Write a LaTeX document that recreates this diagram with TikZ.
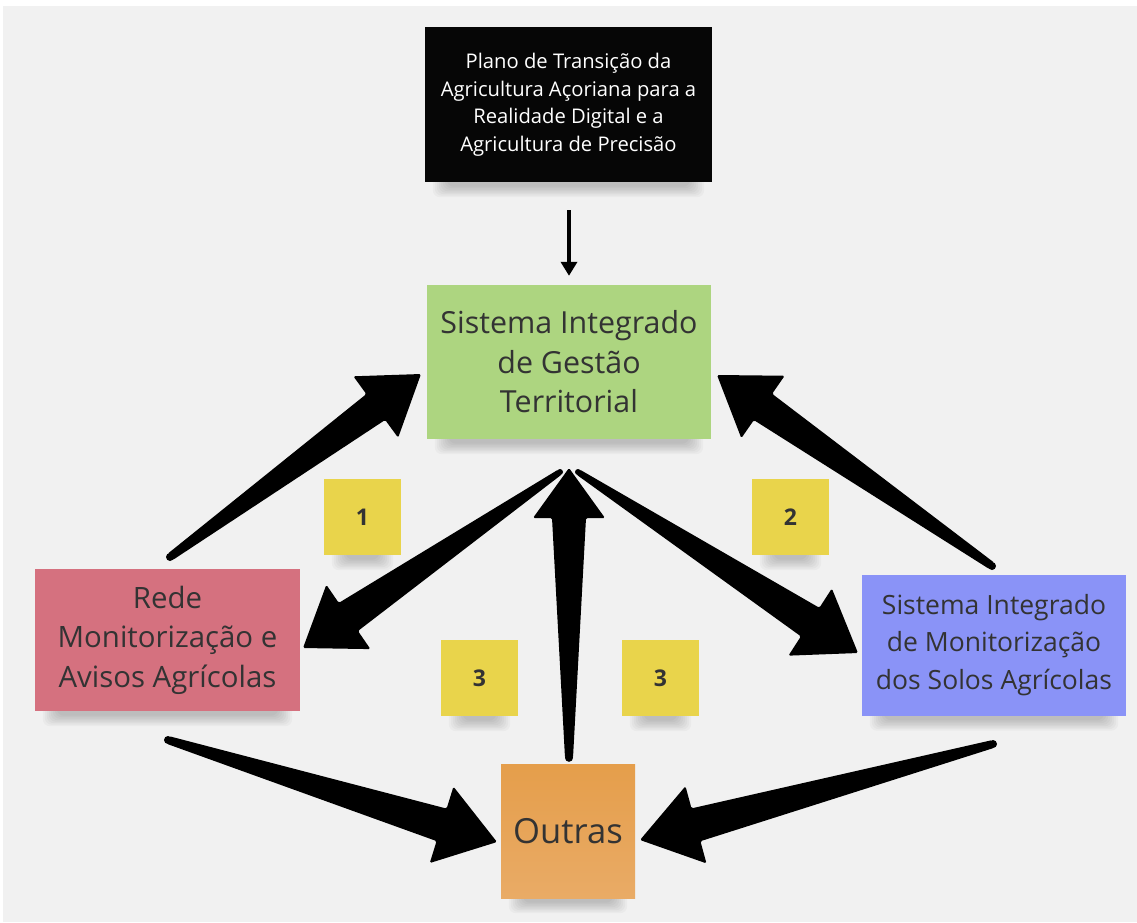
\documentclass[tikz,border=0pt]{standalone}
\usepackage{fontspec}
\setmainfont{Open Sans}
\usetikzlibrary{calc,arrows.meta}

\definecolor{bgc}{HTML}{F1F1F1}
\definecolor{txt}{HTML}{333333}
\definecolor{noteblack}{HTML}{060606}
\definecolor{notegreen}{HTML}{ADD580}
\definecolor{notepink}{HTML}{D5717F}
\definecolor{noteblue}{HTML}{8A93F7}
\definecolor{orangetop}{HTML}{E59E4B}
\definecolor{orangebot}{HTML}{E9AB66}
\definecolor{noteyellow}{HTML}{E9D44B}

\pgfdeclarelayer{canvas}
\pgfdeclarelayer{shade}
\pgfsetlayers{canvas,shade,main}

% Tapered arrow: #1 tail, #2 tip, #3 tail half-width, #4 shaft half-width at head,
% #5 head half-width, #6 head length
\newcommand{\taperarrow}[6]{%
  \coordinate (hb) at ($(#2)!#6!(#1)$);
  \fill[black] (#1) circle[radius=#3];
  \fill[black, rounded corners=1.5pt]
    ($(#1)!#3!90:(#2)$) -- ($(hb)!#4!-90:(#1)$) -- ($(hb)!#5!-90:(#1)$)
    -- (#2)
    -- ($(hb)!#5!90:(#1)$) -- ($(hb)!#4!90:(#1)$) -- ($(#1)!#3!-90:(#2)$) -- cycle;
}

% Soft shadow under the lower edge of a note
\newcommand{\noteshadow}[1]{%
  \foreach \i in {0,...,7}{%
    \fill[black, opacity=0.026, rounded corners=7pt]
      ($(#1.south west)+(8+2*\i,-20)$) rectangle ($(#1.south east)+(-8-2*\i,15-1.5*\i)$);
  }%
}

\begin{document}
\begin{tikzpicture}[x=1pt, y=-1pt,
  sticky/.style={inner sep=0pt, align=center, text=txt},
  numnote/.style={sticky, fill=noteyellow, minimum width=77pt, minimum height=76pt,
    font=\fontsize{23}{26}\selectfont\bfseries},
  thinarrow/.style={line width=3.5pt, -{Triangle[width=16pt,length=14pt]}}
]
% canvas
\begin{pgfonlayer}{canvas}
\fill[white] (0,0) rectangle (1137,922);
\fill[bgc] (3,6) rectangle (1137,922);
\end{pgfonlayer}
\useasboundingbox (0,0) rectangle (1137,922);

% notes
\node[sticky, fill=noteblack, text=white, minimum width=287pt, minimum height=155pt,
  font=\fontsize{20.2}{27.5}\selectfont] (plano) at (568.5,104.5)
  {Plano de Transição da\\Agricultura Açoriana para a\\Realidade Digital e a\\Agricultura de Precisão};

\node[sticky, fill=notegreen, minimum width=284pt, minimum height=154pt,
  font=\fontsize{30.4}{39.5}\selectfont] (sigt) at (569,362)
  {Sistema Integrado\\de Gestão\\Territorial};

\node[sticky, fill=notepink, minimum width=265pt, minimum height=142pt,
  font=\fontsize{29.4}{39.5}\selectfont] (rede) at (167.5,640)
  {Rede\\Monitorização e\\Avisos Agrícolas};

\node[sticky, fill=noteblue, minimum width=264pt, minimum height=141pt,
  font=\fontsize{26.5}{37.5}\selectfont] (simsa) at (994,645)
  {Sistema Integrado\\de Monitorização\\dos Solos Agrícolas};

\node[sticky, top color=orangetop, bottom color=orangebot, minimum width=134pt,
  minimum height=134pt, font=\fontsize{34.6}{40}\selectfont] (outras) at (568,831)
  {Outras};

\node[numnote] (n1) at (362.5,517) {1};
\node[numnote] (n2) at (790.5,517) {2};
\node[numnote] (n3a) at (479.5,678) {3};
\node[numnote] (n3b) at (660.5,678) {3};

% shadows beneath the notes
\begin{pgfonlayer}{shade}
\foreach \n in {plano,sigt,rede,simsa,outras,n1,n2,n3a,n3b}{\noteshadow{\n}}
\end{pgfonlayer}

% connector end points
\coordinate (plano-out) at ($(plano.south)+(0.5,28)$);
\coordinate (sigt-in) at ($(sigt.north)+(0,-9)$);
\coordinate (hub) at (569,468);
\coordinate (hub-l) at (560,472);
\coordinate (hub-r) at (578,472);
\coordinate (rede-up) at (170,557);
\coordinate (rede-down) at (168,740);
\coordinate (simsa-up) at (992,566);
\coordinate (simsa-down) at (993,744);
\coordinate (sigt-l) at (421,374);
\coordinate (sigt-r) at (717,375);
\coordinate (rede-in) at (303,648);
\coordinate (simsa-in) at (858,653);
\coordinate (outras-up) at ($(outras.north)+(1,-6)$);
\coordinate (outras-l) at (497,842);
\coordinate (outras-r) at (640,840);

% connectors
\draw[thinarrow] (plano-out) -- (sigt-in);
\taperarrow{rede-up}{sigt-l}{4pt}{16pt}{38pt}{56pt}
\taperarrow{simsa-up}{sigt-r}{4pt}{16pt}{38pt}{56pt}
\taperarrow{hub-l}{rede-in}{3pt}{17pt}{39pt}{55pt}
\taperarrow{hub-r}{simsa-in}{3pt}{17pt}{40pt}{57pt}
\taperarrow{outras-up}{hub}{4pt}{17pt}{36pt}{50pt}
\taperarrow{rede-down}{outras-l}{4pt}{17pt}{40pt}{58pt}
\taperarrow{simsa-down}{outras-r}{4pt}{17pt}{40pt}{58pt}
\end{tikzpicture}
\end{document}
